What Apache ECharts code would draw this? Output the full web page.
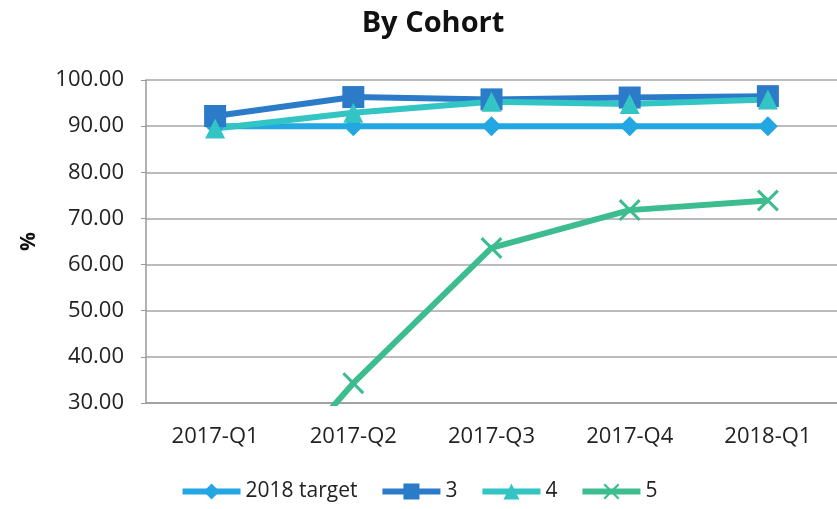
<!DOCTYPE html>
<html><head><meta charset="utf-8">
<script src="https://cdn.jsdelivr.net/npm/echarts@6/dist/echarts.min.js"></script>
<style>html,body{margin:0;padding:0;background:#fff}#c{width:837px;height:509px}</style>
</head><body><div id="c"></div>
<script>
const categories = ['2017-Q1','2017-Q2','2017-Q3','2017-Q4','2018-Q1'];
const target2018 = [90, 90, 90, 90, 90];
const cohort3 = [92.2, 96.3, 95.8, 96.2, 96.5];
const cohort4 = [89.5, 92.9, 95.3, 94.8, 95.8];
const cohort5 = [0, 34.3, 63.6, 71.8, 73.9];
const yTicks = {min: 30, max: 100, interval: 10};

const font = '"Open Sans", Lato, sans-serif';
const xPath = 'path://M2,0 L10,8 L18,0 L20,2 L12,10 L20,18 L18,20 L10,12 L2,20 L0,18 L8,10 L0,2 Z';
function s(name, data, color, symbol, size) {
  return {name, type:'line', data, symbol, symbolSize:size, showAllSymbol:true,
    lineStyle:{color, width:6}, itemStyle:{color}, clip:true, z: 2};
}
const chart = echarts.init(document.getElementById('c'));
chart.setOption({
  animation:false,
  title:{text:'By Cohort', left:428, textAlign:'center', top:4, textStyle:{fontFamily:font, fontSize:29, fontWeight:'bold', color:'#111'}},
  grid:{left:146, right:-6, top:80, bottom:106},
  legend:{bottom:2, left:'center', itemWidth:58, itemHeight:20, itemGap:22,
    lineStyle:{width:6},
    textStyle:{fontFamily:font, fontSize:21, color:'#222'},
    data:['2018 target','3','4','5']},
  xAxis:{type:'category', data:categories, boundaryGap:true,
    axisLine:{lineStyle:{color:'#999', width:1.5}}, axisTick:{show:false},
    axisLabel:{fontFamily:font, fontSize:22, color:'#222', margin:23}},
  yAxis:{type:'value', min:yTicks.min, max:yTicks.max, interval:yTicks.interval,
    name:'%', nameLocation:'middle', nameRotate:90, nameGap:106,
    nameTextStyle:{fontFamily:font, fontSize:21, fontWeight:'bold', color:'#111'},
    axisLine:{show:true, lineStyle:{color:'#999', width:1.5}},
    axisTick:{show:true, length:5, lineStyle:{color:'#999'}},
    splitLine:{lineStyle:{color:'#a6a6a6', width:1.5}},
    axisLabel:{fontFamily:font, fontSize:22, color:'#222', margin:22, formatter:v=>v.toFixed(2)}},
  series:[
    s('2018 target', target2018, '#22a7e2', 'diamond', 20),
    s('3', cohort3, '#2b7bc9', 'rect', 22),
    s('4', cohort4, '#33c4c4', 'triangle', 20),
    s('5', cohort5, '#3dbd8f', xPath, 22)
  ]
});
</script></body></html>
